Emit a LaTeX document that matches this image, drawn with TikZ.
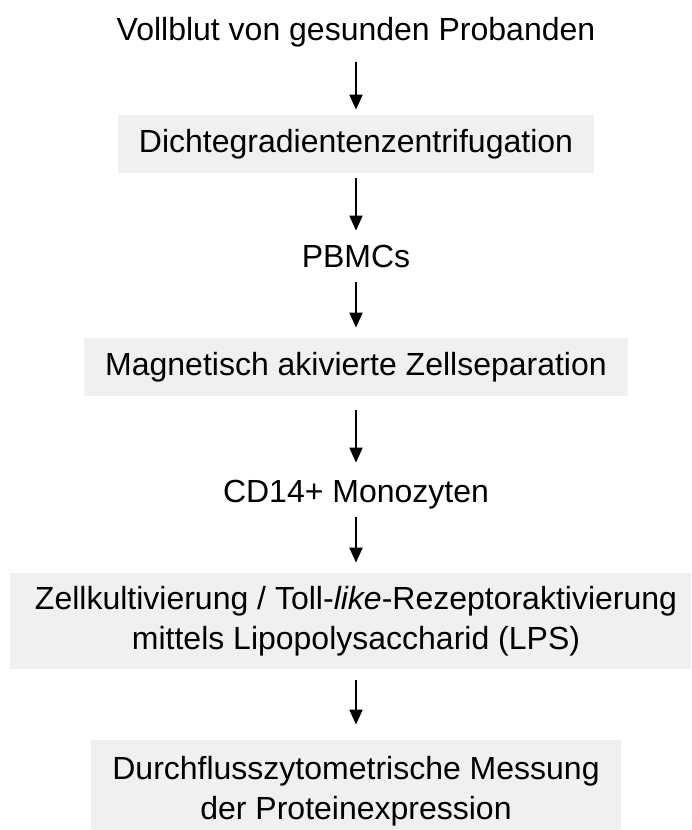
\documentclass[tikz,border=0pt]{standalone}
\usepackage{fontspec}
\setmainfont{Liberation Sans}
\usetikzlibrary{arrows.meta}
\definecolor{boxgray}{RGB}{240,240,240}
\begin{document}
\begin{tikzpicture}[x=0.5pt,y=-0.5pt,font=\fontsize{16pt}{20pt}\selectfont]
        		\tikzset{label/.style={inner sep=0pt,text height=0.75em,text depth=0.25em,anchor=base}}
        		\tikzset{stage/.style={fill=boxgray,inner sep=0pt,align=center}}
        		\tikzset{flow/.style={draw,line width=1pt,-{Triangle[width=6.5pt,length=7.5pt]},shorten <=5pt,shorten >=5pt}}
        		\clip (0,0) rectangle (691,830);
       			\begin{scope}
			        \node [label] (blood) at (356,40) {Vollblut von gesunden Probanden};
			        \node [stage,minimum width=238pt,minimum height=29pt] (ficoll) at (356,144) {Dichtegradientenzentrifugation};
			        \node [label] (pbmc) at (356,267) {PBMCs};
			        \node [stage,minimum width=272pt,minimum height=29pt] (macs) at (356,367) {Magnetisch akivierte Zellseparation};
			        \node [label] (mono) at (356,502) {CD14+ Monozyten};
			        \node [stage,minimum width=346pt,minimum height=48pt] (culture) at (356,621) {Zellkultivierung / Toll-\textit{like}-Rezeptoraktivierung\\mittels Lipopolysaccharid (LPS)};
			        \node [stage,minimum width=265pt,minimum height=51pt] (facs) at (356,791) {Durchflusszytometrische Messung\\der Proteinexpression};
			        \path[flow,shorten <=8.5pt,shorten >=2.5pt] (blood) -- (ficoll);
			        \path[flow,shorten <=2.5pt,shorten >=10.5pt] (ficoll) -- (pbmc);
			        \path[flow] (pbmc) -- (macs);
			        \path[flow,shorten <=7pt,shorten >=12pt] (macs) -- (mono);
			        \path[flow] (mono) -- (culture);
			        \path[flow,shorten <=5.5pt,shorten >=7.5pt] (culture) -- (facs);
        		\end{scope}
      		\end{tikzpicture}
\end{document}
